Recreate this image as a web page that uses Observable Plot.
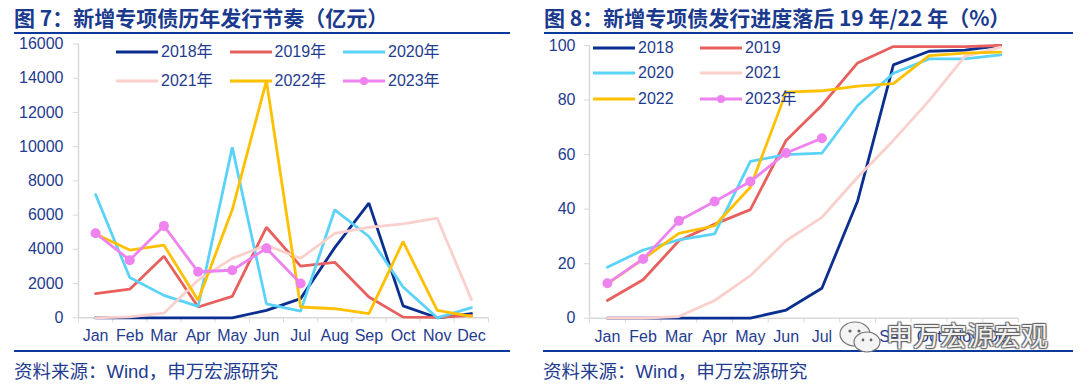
<!DOCTYPE html>
<html><head><meta charset="utf-8">
<script src="https://cdn.jsdelivr.net/npm/d3@7"></script>
<script src="https://cdn.jsdelivr.net/npm/@observablehq/plot@0.6"></script>
<style>
html,body{margin:0;padding:0;background:#fff;}
body{width:1080px;height:384px;position:relative;overflow:hidden;font-family:"Liberation Sans","Noto Sans CJK SC",sans-serif;color:#1f3c8f;}
.abs{position:absolute;}
.title{font-family:"Noto Sans CJK SC","Liberation Sans",sans-serif;font-weight:bold;font-size:21px;color:#1a3a8e;white-space:nowrap;line-height:24px;}
.rule{height:2px;background:#0b3a9c;}
.src{font-family:"Liberation Sans","Noto Sans CJK SC",sans-serif;font-size:18.5px;color:#1f3c8f;white-space:nowrap;line-height:22px;}
.leg{font-size:16px;line-height:18px;white-space:nowrap;color:#1f3c8f;display:flex;align-items:center;}
.leg svg{margin-right:3px;}
.wm{font-family:"Noto Sans CJK SC",sans-serif;font-size:27px;color:#f2f2f2;white-space:nowrap;text-shadow:1px 1px 1px #666,-1px -1px 1px #666,1px -1px 1px #666,-1px 1px 1px #666;line-height:30px;}
</style></head>
<body>
<script>
const months = ["Jan","Feb","Mar","Apr","May","Jun","Jul","Aug","Sep","Oct","Nov","Dec"];
const years = ["2018","2019","2020","2021","2022","2023"];
const colors = ["#0a2f91","#e8605d","#5bd3f8","#fad0cc","#ffc000","#ee82ee"];

// Fig 7: monthly issuance (亿元)
const flow2018 = [0,0,0,0,0,430,1120,4100,6700,700,0,250];
const flow2019 = [1410,1670,3600,630,1250,5290,3020,3240,1220,40,20,140];
const flow2020 = [7200,2350,1310,670,9960,820,390,6310,4750,1800,0,590];
const flow2021 = [0,50,270,2200,3470,4250,3470,4940,5290,5490,5820,1060];
const flow2022 = [4900,3960,4250,1020,6310,13850,630,530,240,4450,430,80];
const flow2023 = [4940,3370,5370,2690,2780,4060,2000];
const flowTicks = [0,2000,4000,6000,8000,10000,12000,14000,16000];

// Fig 8: cumulative progress (%)
const prog2018 = [0,0,0,0,0,3.0,11,43,92.9,97.9,98.3,100];
const prog2019 = [6.5,14.1,28.4,34.5,39.8,65.2,78.1,93.6,99.6,99.6,99.6,100];
const prog2020 = [18.7,25,28.7,30.9,57.5,60,60.5,78,89.8,95.1,95.1,96.6];
const prog2021 = [0,0,0.6,6.5,15.6,28.4,37,51.7,65.2,79.8,96,99.4];
const prog2022 = [12.6,21.7,31.1,33.9,48,82.9,83.4,85.1,86,96.3,97.2,97.6];
const prog2023 = [12.8,21.7,35.7,42.8,50.1,60.6,66];
const progTicks = [0,20,40,60,80,100];

const leftLegend = ["2018年","2019年","2020年","2021年","2022年","2023年"];
const rightLegend = ["2018","2019","2020","2021","2022","2023年"];

const navy = "#1f3c8f";
const gray = "#d9d9d9";

function rowsOf(series){
  const out = [];
  series.forEach((vals, k) => vals.forEach((v, i) => out.push({m: i, v, year: years[k]})));
  return out;
}

function makeChart(series, yMax, ticks, dims){
  const rows = rowsOf(series);
  const last = rows.filter(d => d.year === "2023");
  return Plot.plot({
    width: dims.width, height: dims.height,
    marginTop: dims.mt, marginBottom: dims.mb, marginLeft: dims.ml, marginRight: dims.mr,
    x: {domain: [-0.5, 11.5], axis: null},
    y: {domain: [0, yMax], axis: null},
    color: {domain: years, range: colors},
    style: {background: "transparent", fontFamily: '"Liberation Sans","Noto Sans CJK SC",sans-serif', fontSize: "16px", overflow: "visible"},
    marks: [
      Plot.ruleX([-0.5], {stroke: gray, strokeWidth: 1.5}),
      Plot.ruleY([0], {stroke: gray, strokeWidth: 1.5}),
      Plot.axisY({ticks, tickSize: 5, tickPadding: dims.tp, stroke: gray, color: navy, label: null, tickFormat: d => String(d)}),
      Plot.axisX({ticks: d3.range(12), tickSize: 0, tickPadding: 12, color: navy, label: null, tickFormat: i => months[i]}),
      Plot.axisX({ticks: d3.range(13).map(i => i - 0.5), tickSize: 5, stroke: gray, label: null, tickFormat: () => ""}),
      Plot.lineY(rows, {x: "m", y: "v", z: "year", stroke: "year", strokeWidth: 2.8, strokeLinejoin: "miter"}),
      Plot.dot(last, {x: "m", y: "v", fill: colors[5], r: 5})
    ]
  });
}

function place(el, left, top){
  el.style.position = "absolute";
  el.style.left = left + "px";
  el.style.top = top + "px";
  document.body.appendChild(el);
}

function addDiv(cls, left, top, html, extra){
  const d = document.createElement("div");
  d.className = "abs " + cls;
  d.style.left = left + "px"; d.style.top = top + "px";
  if (extra) Object.assign(d.style, extra);
  d.innerHTML = html;
  document.body.appendChild(d);
  return d;
}

function swatch(color, withDot){
  return `<svg width="42" height="8"><line x1="0" y1="4" x2="42" y2="4" stroke="${color}" stroke-width="3"/>${withDot ? `<circle cx="21" cy="4" r="4" fill="${color}"/>` : ""}</svg>`;
}

// Titles and rules
addDiv("title", 14, 5, "图 7：新增专项债历年发行节奏（亿元）");
addDiv("title", 544, 5, "图 8：新增专项债发行进度落后 19 年/22 年（%）");
addDiv("rule", 14, 32, "", {width: "496px"});
addDiv("rule", 544, 32, "", {width: "529px"});
addDiv("rule", 14, 350, "", {width: "496px"});
addDiv("rule", 543, 350, "", {width: "530px"});
addDiv("src", 14, 361, "资料来源：Wind，申万宏源研究");
addDiv("src", 543, 361, "资料来源：Wind，申万宏源研究");

// Charts
const left = makeChart([flow2018, flow2019, flow2020, flow2021, flow2022, flow2023], 16000, flowTicks,
  {width: 530, height: 314, mt: 7.5, mb: 32.7, ml: 78, mr: 42, tp: 10});
place(left, 0, 36);
const right = makeChart([prog2018, prog2019, prog2020, prog2021, prog2022, prog2023], 100, progTicks,
  {width: 540, height: 314, mt: 9, mb: 32.3, ml: 49, mr: 62, tp: 9});
place(right, 540, 36);

// Legends
leftLegend.forEach((t, i) => {
  const col = i % 3, row = Math.floor(i / 3);
  addDiv("leg", 116 + col * 113.5, 43 + row * 28.5, swatch(colors[i], i === 5) + t);
});
rightLegend.forEach((t, i) => {
  const col = i % 2, row = Math.floor(i / 2);
  addDiv("leg", 593 + col * 107, 38.5 + row * 25.5, swatch(colors[i], i === 5) + t);
});

// Watermark (overlays the right axis labels as in the reference)
addDiv("", 838, 318, `<svg width="46" height="40"><ellipse cx="17" cy="16" rx="15" ry="12" fill="#f4f4f4" stroke="#777" stroke-width="1.2"/><ellipse cx="29" cy="24" rx="13" ry="10" fill="#f4f4f4" stroke="#777" stroke-width="1.2"/><circle cx="12" cy="13" r="1.6" fill="#666"/><circle cx="21" cy="13" r="1.6" fill="#666"/><circle cx="25" cy="22" r="1.4" fill="#666"/><circle cx="33" cy="22" r="1.4" fill="#666"/></svg>`);
addDiv("wm", 886, 320, "申万宏源宏观");
</script>
</body></html>
